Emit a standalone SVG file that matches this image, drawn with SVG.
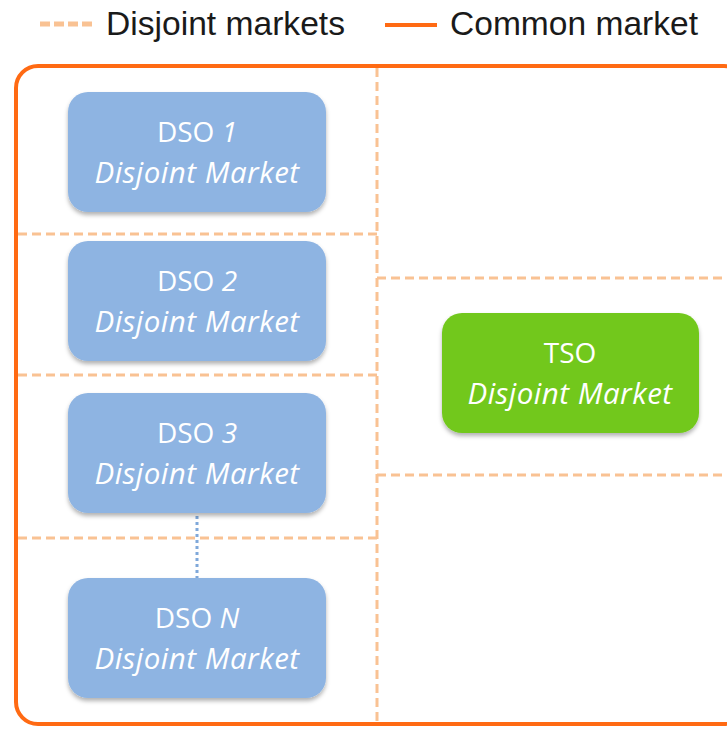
<svg xmlns="http://www.w3.org/2000/svg" width="727" height="729" viewBox="0 0 727 729">
<defs>
<style>
.legend{font-family:"Liberation Sans",Arial,sans-serif;font-size:33px;fill:#1a1a1a}
.dash{stroke:#F9C293;stroke-width:3;stroke-dasharray:9 5;fill:none}
.node rect{stroke:none;filter:url(#sh)}
.dso rect{fill:#8EB4E2}
.tso rect{fill:#72C81F}
.t1{font-family:"Open Sans","Liberation Sans",sans-serif;font-size:28px;fill:#fff;text-anchor:middle}
.t2{font-family:"Open Sans","Liberation Sans",sans-serif;font-size:29.5px;fill:#fff;text-anchor:middle;font-style:italic;letter-spacing:0.5px}
</style>
<filter id="sh" x="-10%" y="-10%" width="120%" height="130%">
<feDropShadow dx="0" dy="3" stdDeviation="2" flood-color="#000" flood-opacity="0.3"/>
</filter>
</defs>
<rect width="727" height="729" fill="#fff"/>
<g id="legend">
<line x1="40" y1="24" x2="92" y2="24" stroke="#F9C293" stroke-width="5" stroke-dasharray="10 4"/>
<text x="106" y="35" class="legend" textLength="239" lengthAdjust="spacingAndGlyphs">Disjoint markets</text>
<line x1="385" y1="25" x2="437" y2="25" stroke="#FF6A13" stroke-width="4"/>
<text x="450" y="35" class="legend" textLength="248" lengthAdjust="spacingAndGlyphs">Common market</text>
</g>
<g id="connectors">
<rect x="16" y="66" width="730" height="658" rx="22" fill="none" stroke="#FF6A13" stroke-width="4"/>
<line x1="377" y1="68" x2="377" y2="722" class="dash"/>
<line x1="18" y1="234" x2="377" y2="234" class="dash"/>
<line x1="18" y1="375" x2="377" y2="375" class="dash"/>
<line x1="18" y1="538" x2="377" y2="538" class="dash"/>
<line x1="377" y1="278" x2="727" y2="278" class="dash"/>
<line x1="377" y1="475" x2="727" y2="475" class="dash"/>
<line x1="197" y1="516" x2="197" y2="578" stroke="#7FA8DA" stroke-width="3" stroke-dasharray="3 3"/>
</g>
<g id="dso1" class="node dso">
<rect x="68" y="92" width="258" height="120" rx="20"/>
<text x="197" y="142" class="t1">DSO <tspan font-style="italic">1</tspan></text>
<text x="197" y="183" class="t2">Disjoint Market</text>
</g>
<g id="dso2" class="node dso">
<rect x="68" y="241" width="258" height="120" rx="20"/>
<text x="197" y="291" class="t1">DSO <tspan font-style="italic">2</tspan></text>
<text x="197" y="332" class="t2">Disjoint Market</text>
</g>
<g id="dso3" class="node dso">
<rect x="68" y="393" width="258" height="120" rx="20"/>
<text x="197" y="443" class="t1">DSO <tspan font-style="italic">3</tspan></text>
<text x="197" y="484" class="t2">Disjoint Market</text>
</g>
<g id="dsoN" class="node dso">
<rect x="68" y="578" width="258" height="120" rx="20"/>
<text x="197" y="628" class="t1">DSO <tspan font-style="italic">N</tspan></text>
<text x="197" y="669" class="t2">Disjoint Market</text>
</g>
<g id="tso" class="node tso">
<rect x="442" y="313" width="257" height="120" rx="20"/>
<text x="570" y="363" class="t1">TSO</text>
<text x="570" y="404" class="t2">Disjoint Market</text>
</g>
</svg>
